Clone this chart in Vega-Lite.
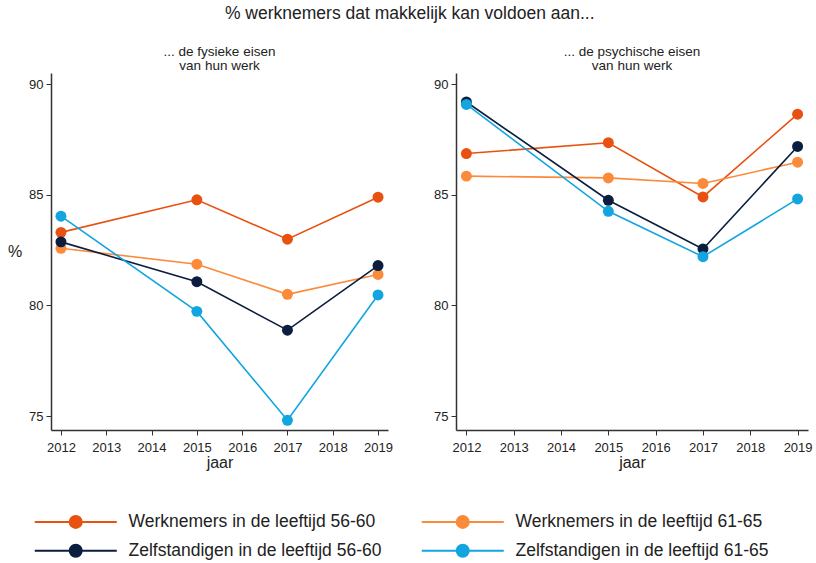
{
  "$schema": "https://vega.github.io/schema/vega-lite/v6.json",
  "background": "white",
  "padding": {"left": 7, "top": 5, "right": 5, "bottom": 5},
  "config": {
    "font": "Liberation Sans",
    "view": {"stroke": null},
    "axis": {"grid": false, "domainColor": "#333333", "tickColor": "#333333", "labelColor": "#222222", "titleColor": "#222222", "labelFontSize": 13, "titleFontSize": 16, "titleFontWeight": "normal", "tickSize": 5, "labelPadding": 3, "domainWidth": 1.5},
    "title": {"fontWeight": "normal", "color": "#222222"}
  },
  "title": {"text": "% werknemers dat makkelijk kan voldoen aan...", "fontSize": 17.5, "anchor": "middle", "offset": 22},
  "data": {"values": [
    {"panel": "fys", "jaar": 2012, "groep": "Werknemers in de leeftijd 56-60", "pct": 83.3},
    {"panel": "fys", "jaar": 2015, "groep": "Werknemers in de leeftijd 56-60", "pct": 84.77},
    {"panel": "fys", "jaar": 2017, "groep": "Werknemers in de leeftijd 56-60", "pct": 82.99},
    {"panel": "fys", "jaar": 2019, "groep": "Werknemers in de leeftijd 56-60", "pct": 84.89},
    {"panel": "fys", "jaar": 2012, "groep": "Werknemers in de leeftijd 61-65", "pct": 82.58},
    {"panel": "fys", "jaar": 2015, "groep": "Werknemers in de leeftijd 61-65", "pct": 81.86},
    {"panel": "fys", "jaar": 2017, "groep": "Werknemers in de leeftijd 61-65", "pct": 80.5},
    {"panel": "fys", "jaar": 2019, "groep": "Werknemers in de leeftijd 61-65", "pct": 81.4},
    {"panel": "fys", "jaar": 2012, "groep": "Zelfstandigen in de leeftijd 56-60", "pct": 82.87},
    {"panel": "fys", "jaar": 2015, "groep": "Zelfstandigen in de leeftijd 56-60", "pct": 81.07},
    {"panel": "fys", "jaar": 2017, "groep": "Zelfstandigen in de leeftijd 56-60", "pct": 78.88},
    {"panel": "fys", "jaar": 2019, "groep": "Zelfstandigen in de leeftijd 56-60", "pct": 81.8},
    {"panel": "fys", "jaar": 2012, "groep": "Zelfstandigen in de leeftijd 61-65", "pct": 84.03},
    {"panel": "fys", "jaar": 2015, "groep": "Zelfstandigen in de leeftijd 61-65", "pct": 79.73},
    {"panel": "fys", "jaar": 2017, "groep": "Zelfstandigen in de leeftijd 61-65", "pct": 74.81},
    {"panel": "fys", "jaar": 2019, "groep": "Zelfstandigen in de leeftijd 61-65", "pct": 80.47},
    {"panel": "psy", "jaar": 2012, "groep": "Werknemers in de leeftijd 56-60", "pct": 86.86},
    {"panel": "psy", "jaar": 2015, "groep": "Werknemers in de leeftijd 56-60", "pct": 87.35},
    {"panel": "psy", "jaar": 2017, "groep": "Werknemers in de leeftijd 56-60", "pct": 84.9},
    {"panel": "psy", "jaar": 2019, "groep": "Werknemers in de leeftijd 56-60", "pct": 88.64},
    {"panel": "psy", "jaar": 2012, "groep": "Werknemers in de leeftijd 61-65", "pct": 85.84},
    {"panel": "psy", "jaar": 2015, "groep": "Werknemers in de leeftijd 61-65", "pct": 85.76},
    {"panel": "psy", "jaar": 2017, "groep": "Werknemers in de leeftijd 61-65", "pct": 85.51},
    {"panel": "psy", "jaar": 2019, "groep": "Werknemers in de leeftijd 61-65", "pct": 86.47},
    {"panel": "psy", "jaar": 2012, "groep": "Zelfstandigen in de leeftijd 56-60", "pct": 89.19},
    {"panel": "psy", "jaar": 2015, "groep": "Zelfstandigen in de leeftijd 56-60", "pct": 84.75},
    {"panel": "psy", "jaar": 2017, "groep": "Zelfstandigen in de leeftijd 56-60", "pct": 82.55},
    {"panel": "psy", "jaar": 2019, "groep": "Zelfstandigen in de leeftijd 56-60", "pct": 87.18},
    {"panel": "psy", "jaar": 2012, "groep": "Zelfstandigen in de leeftijd 61-65", "pct": 89.08},
    {"panel": "psy", "jaar": 2015, "groep": "Zelfstandigen in de leeftijd 61-65", "pct": 84.25},
    {"panel": "psy", "jaar": 2017, "groep": "Zelfstandigen in de leeftijd 61-65", "pct": 82.2},
    {"panel": "psy", "jaar": 2019, "groep": "Zelfstandigen in de leeftijd 61-65", "pct": 84.81}
  ]},
  "spacing": 40,
  "hconcat": [
    {
      "width": 337, "height": 357,
      "title": {"text": ["... de fysieke eisen", "van hun werk"], "fontSize": 13.5, "lineHeight": 14, "offset": 1, "anchor": "middle"},
      "transform": [{"filter": "datum.panel === 'fys'"}],
      "encoding": {
        "x": {"field": "jaar", "type": "quantitative", "scale": {"domain": [2011.78, 2019.22], "nice": false, "zero": false}, "axis": {"values": [2012, 2013, 2014, 2015, 2016, 2017, 2018, 2019], "format": "d", "title": "jaar", "titlePadding": 0, "labelPadding": 6}},
        "y": {"field": "pct", "type": "quantitative", "scale": {"domain": [74.37, 90.5], "nice": false, "zero": false}, "axis": {"values": [75, 80, 85, 90], "title": "%", "titleAngle": 0, "titleAlign": "center", "titleBaseline": "middle", "titlePadding": 14}},
        "color": {"field": "groep", "type": "nominal",
          "scale": {"domain": ["Werknemers in de leeftijd 56-60", "Werknemers in de leeftijd 61-65", "Zelfstandigen in de leeftijd 56-60", "Zelfstandigen in de leeftijd 61-65"], "range": ["#E8510F", "#FB8A3A", "#0B1E3F", "#12A5E0"]},
          "legend": {"orient": "none", "legendX": -19, "legendY": 440, "direction": "horizontal", "columns": 2, "title": null, "labelFontSize": 17.5, "labelColor": "#222222", "labelLimit": 400, "symbolType": "M-1,0H12.67M6.83,0A1,1 0 1,1 4.83,0A1,1 0 1,1 6.83,0Z", "symbolSize": 144, "symbolStrokeWidth": 2, "symbolOpacity": 1, "labelOffset": 79, "columnPadding": 35, "rowPadding": 8, "padding": 0}}
      },
      "layer": [
        {"mark": {"type": "line", "strokeWidth": 1.6}},
        {"mark": {"type": "point", "filled": true, "size": 120, "opacity": 1}}
      ]
    },
    {
      "width": 352, "height": 357,
      "title": {"text": ["... de psychische eisen", "van hun werk"], "fontSize": 13.5, "lineHeight": 14, "offset": 1, "anchor": "middle"},
      "transform": [{"filter": "datum.panel === 'psy'"}],
      "encoding": {
        "x": {"field": "jaar", "type": "quantitative", "scale": {"domain": [2011.78, 2019.22], "nice": false, "zero": false}, "axis": {"values": [2012, 2013, 2014, 2015, 2016, 2017, 2018, 2019], "format": "d", "title": "jaar", "titlePadding": 0, "labelPadding": 6}},
        "y": {"field": "pct", "type": "quantitative", "scale": {"domain": [74.37, 90.5], "nice": false, "zero": false}, "axis": {"values": [75, 80, 85, 90], "title": null}},
        "color": {"field": "groep", "type": "nominal"}
      },
      "layer": [
        {"mark": {"type": "line", "strokeWidth": 1.6}},
        {"mark": {"type": "point", "filled": true, "size": 120, "opacity": 1}}
      ]
    }
  ],
  "resolve": {"scale": {"color": "shared"}, "legend": {"color": "shared"}}
}
